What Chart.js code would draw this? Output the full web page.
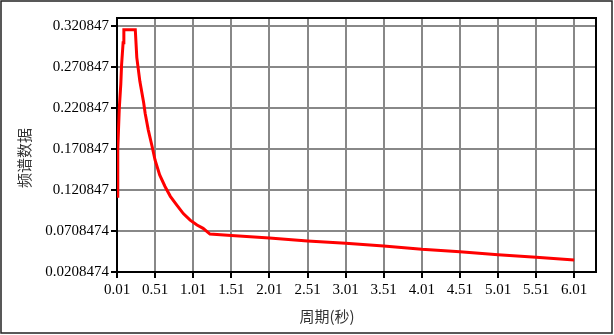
<!DOCTYPE html>
<html>
<head>
<meta charset="utf-8">
<script src="https://cdn.jsdelivr.net/npm/chart.js@4/dist/chart.umd.min.js"></script>
<style>
  html, body { margin: 0; padding: 0; background: #fff; }
  canvas { display: block; }
</style>
</head>
<body>
<canvas id="spectrum" width="614" height="335"></canvas>
<script>
// periods (s) and spectrum values
const periods = [0.01, 0.02, 0.04, 0.06, 0.07, 0.09, 0.10, 0.25, 0.27, 0.31, 0.36, 0.38,
  0.42, 0.47, 0.51, 0.57, 0.64, 0.71, 0.79, 0.88, 0.97, 1.06, 1.14, 1.23,
  1.51, 2.01, 2.51, 3.01, 3.51, 4.01, 4.51, 5.01, 5.51, 6.01];
const spectrumValues = [0.113, 0.17, 0.22, 0.25, 0.273, 0.30, 0.316, 0.316, 0.282, 0.253, 0.227, 0.214,
  0.194, 0.174, 0.157, 0.139, 0.125, 0.113, 0.103, 0.092, 0.084, 0.078, 0.074, 0.067,
  0.0654, 0.0622, 0.0587, 0.0559, 0.0525, 0.0485, 0.0456, 0.042, 0.0388, 0.0355];

const xTickValues = [0.01, 0.51, 1.01, 1.51, 2.01, 2.51, 3.01, 3.51, 4.01, 4.51, 5.01, 5.51, 6.01];
const xTickLabels = ['0.01', '0.51', '1.01', '1.51', '2.01', '2.51', '3.01', '3.51', '4.01', '4.51', '5.01', '5.51', '6.01'];
const yTickValues = [0.0208474, 0.0708474, 0.120847, 0.170847, 0.220847, 0.270847, 0.320847];
const yTickLabels = ['0.0208474', '0.0708474', '0.120847', '0.170847', '0.220847', '0.270847', '0.320847'];

const xTitle = '周期(秒)';
const yTitle = '频谱数据';

const tickFont = { family: '"Liberation Serif", "DejaVu Serif", serif', size: 15 };

// white page, outer frame, plot frame and the two axis titles
const framePlugin = {
  id: 'frame',
  beforeDraw(chart) {
    const ctx = chart.ctx;
    ctx.save();
    ctx.fillStyle = '#fff';
    ctx.fillRect(0, 0, chart.width, chart.height);
    ctx.restore();
  },
  afterDraw(chart) {
    const ctx = chart.ctx;
    const a = chart.chartArea;
    ctx.save();
    ctx.strokeStyle = '#000';
    ctx.lineWidth = 2;
    ctx.beginPath();
    ctx.moveTo(a.left, a.top);
    ctx.lineTo(a.right, a.top);
    ctx.lineTo(a.right, a.bottom);
    ctx.stroke();

    ctx.strokeStyle = '#222';
    ctx.lineWidth = 1.5;
    ctx.strokeRect(1, 1, chart.width - 3, chart.height - 3);

    ctx.fillStyle = '#333';
    ctx.font = '15px "Noto Sans CJK SC"';
    ctx.textAlign = 'center';
    ctx.textBaseline = 'middle';
    ctx.fillText(xTitle, 327, 316);
    ctx.translate(24, 158);
    ctx.rotate(-Math.PI / 2);
    ctx.fillText(yTitle, 0, 0);
    ctx.restore();
  }
};

new Chart(document.getElementById('spectrum'), {
  type: 'line',
  data: {
    datasets: [{
      label: yTitle,
      data: periods.map((p, i) => ({ x: p, y: spectrumValues[i] })),
      borderColor: '#ff0000',
      borderWidth: 3,
      pointRadius: 0,
      tension: 0,
      fill: false
    }]
  },
  options: {
    responsive: false,
    animation: false,
    devicePixelRatio: 1,
    layout: { padding: { top: 18, right: 18, left: 0, bottom: 0 } },
    plugins: {
      legend: { display: false },
      tooltip: { enabled: false }
    },
    scales: {
      x: {
        type: 'linear',
        min: 0.01,
        max: 6.296,
        afterBuildTicks: (scale) => { scale.ticks = xTickValues.map(v => ({ value: v })); },
        afterFit: (scale) => { scale.height = 63; },
        ticks: {
          autoSkip: false,
          maxRotation: 0,
          color: '#000',
          font: tickFont,
          padding: 3,
          callback: (v, i) => xTickLabels[i]
        },
        grid: { color: '#888', lineWidth: 2, tickColor: '#000', tickLength: 6, tickWidth: 2 },
        border: { color: '#000', width: 2 }
      },
      y: {
        type: 'linear',
        min: 0.0208474,
        max: 0.3302,
        afterBuildTicks: (scale) => { scale.ticks = yTickValues.map(v => ({ value: v })); },
        afterFit: (scale) => { scale.width = 117; },
        ticks: {
          autoSkip: false,
          color: '#000',
          font: tickFont,
          padding: 2,
          callback: (v, i) => yTickLabels[i]
        },
        grid: { color: '#888', lineWidth: 2, tickColor: '#000', tickLength: 6, tickWidth: 2 },
        border: { color: '#000', width: 2 }
      }
    }
  },
  plugins: [framePlugin]
});
</script>
</body>
</html>
